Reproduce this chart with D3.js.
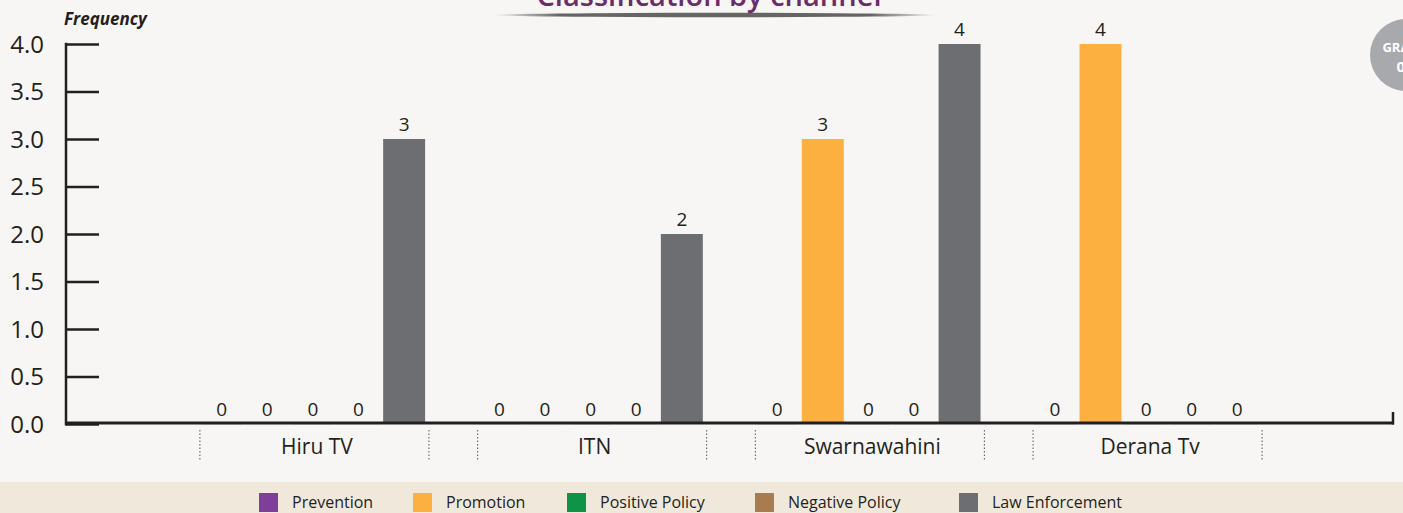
<!DOCTYPE html>
<html>
<head>
<meta charset="utf-8">
<script src="https://cdn.jsdelivr.net/npm/d3@7"></script>
<style>
  html, body { margin: 0; padding: 0; background: #f7f6f4; }
  svg { display: block; }
  text { font-family: "Open Sans", "DejaVu Sans", sans-serif; fill: #231f20; }
</style>
</head>
<body>
<svg id="chart" width="1403" height="513"></svg>
<script>
// ---- data ----
const channels = ["Hiru TV", "ITN", "Swarnawahini", "Derana Tv"];
const series = ["Prevention", "Promotion", "Positive Policy", "Negative Policy", "Law Enforcement"];
const prevention     = [0, 0, 0, 0];
const promotion      = [0, 0, 3, 4];
const positivePolicy = [0, 0, 0, 0];
const negativePolicy = [0, 0, 0, 0];
const lawEnforcement = [3, 2, 4, 0];
const yTicks = [0, 0.5, 1, 1.5, 2, 2.5, 3, 3.5, 4];
const title = "Classification by channel";
const yLabel = "Frequency";

const colors = ["#7f3f98", "#fbb040", "#0f9447", "#a97c50", "#6d6e71"];
const values = [prevention, promotion, positivePolicy, negativePolicy, lawEnforcement];

const svg = d3.select("#chart");
const W = 1403, H = 513;
const axisX = 66, axisRight = 1393, baseY = 424, topY = 44;

// background + legend band
svg.append("rect").attr("width", W).attr("height", H).attr("fill", "#f7f6f4");
svg.append("rect").attr("x", 0).attr("y", 482).attr("width", W).attr("height", H - 482).attr("fill", "#f0e9db");

// title (cut off at top, as in the source)
const defs = svg.append("defs");
const grad = defs.append("linearGradient").attr("id", "shadow").attr("x1", "0%").attr("x2", "100%");
grad.append("stop").attr("offset", "0%").attr("stop-color", "#555").attr("stop-opacity", 0);
grad.append("stop").attr("offset", "15%").attr("stop-color", "#555").attr("stop-opacity", 0.9);
grad.append("stop").attr("offset", "85%").attr("stop-color", "#555").attr("stop-opacity", 0.9);
grad.append("stop").attr("offset", "100%").attr("stop-color", "#555").attr("stop-opacity", 0);
svg.append("ellipse").attr("cx", 715).attr("cy", 15).attr("rx", 222).attr("ry", 2.2).attr("fill", "url(#shadow)");
svg.append("text").attr("x", 709).attr("y", 6).attr("text-anchor", "middle")
  .style("font-size", "29px").style("fill", "#6b2c6b").style("font-weight", 600).text(title);

// badge
svg.append("circle").attr("cx", 1406).attr("cy", 55).attr("r", 36).attr("fill", "#a7a9ac");
svg.append("text").attr("x", 1405).attr("y", 52).attr("text-anchor", "middle")
  .style("font-size", "13px").style("font-weight", 700).style("fill", "#fff").text("GRAPH");
svg.append("text").attr("x", 1405).attr("y", 72).attr("text-anchor", "middle")
  .style("font-size", "15px").style("font-weight", 700).style("fill", "#fff").text("06");

// scales
const y = d3.scaleLinear().domain([0, 4]).range([baseY, topY]);
const x0 = d3.scaleBand().domain(channels).range([axisX, axisRight]).paddingInner(0.179).paddingOuter(0.4786);
const x1 = d3.scaleBand().domain(series).range([0, x0.bandwidth()]).paddingInner(0.08).paddingOuter(0.04);

// y axis
const yAxis = d3.axisRight(y).tickValues(yTicks).tickSize(33).tickFormat("");
const gy = svg.append("g").attr("transform", `translate(${axisX},0)`).call(yAxis);
gy.select(".domain").remove();
gy.selectAll(".tick line").attr("stroke", "#231f20").attr("stroke-width", 2.5);
svg.append("line").attr("x1", axisX).attr("x2", axisX).attr("y1", topY - 1.25).attr("y2", baseY + 1.5)
  .attr("stroke", "#231f20").attr("stroke-width", 2.5);
svg.append("g").selectAll("text").data(yTicks).join("text")
  .attr("x", 44).attr("y", d => y(d)).attr("dy", "0.36em").attr("text-anchor", "end")
  .style("font-size", "24px").text(d => d3.format(".1f")(d));

svg.append("text").attr("x", 64).attr("y", 25)
  .style("font-size", "17px").style("font-weight", 700).style("font-style", "italic").text(yLabel);

// bars
const rows = channels.map((c, i) => series.map((s, j) => ({ channel: c, series: s, value: values[j][i], color: colors[j] })));
const groups = svg.append("g").selectAll("g").data(rows).join("g")
  .attr("transform", (d, i) => `translate(${x0(channels[i])},0)`);
groups.selectAll("rect.bar").data(d => d).join("rect").attr("class", "bar")
  .attr("x", d => x1(d.series)).attr("width", x1.bandwidth())
  .attr("y", d => y(d.value)).attr("height", d => y(0) - y(d.value))
  .attr("fill", d => d.color);
groups.selectAll("text").data(d => d).join("text")
  .attr("x", d => x1(d.series) + x1.bandwidth() / 2).attr("y", d => y(d.value) - 8)
  .attr("text-anchor", "middle").style("font-size", "19px").text(d => d.value);

// x axis baseline
svg.append("line").attr("x1", axisX).attr("x2", axisRight + 1).attr("y1", baseY - 1).attr("y2", baseY - 1)
  .attr("stroke", "#231f20").attr("stroke-width", 3);
svg.append("line").attr("x1", axisRight).attr("x2", axisRight).attr("y1", baseY - 12).attr("y2", baseY + 0.5)
  .attr("stroke", "#231f20").attr("stroke-width", 2.5);
// zero-value traces on the baseline
groups.selectAll("rect.zero").data(d => d.filter(v => v.value === 0)).join("rect").attr("class", "zero")
  .attr("x", d => x1(d.series)).attr("width", x1.bandwidth())
  .attr("y", y(0) - 1).attr("height", 1.2).attr("fill", d => d.color).attr("opacity", 0.5);

// category labels and separators
const cat = svg.append("g").selectAll("g").data(channels).join("g");
cat.append("text").attr("x", d => x0(d) + x0.bandwidth() / 2 + 4).attr("y", 454)
  .attr("text-anchor", "middle").style("font-size", "21px").text(d => d);
cat.selectAll("line").data(d => [x0(d) + 1, x0(d) + x0.bandwidth() + 2]).join("line")
  .attr("x1", d => d).attr("x2", d => d).attr("y1", 430).attr("y2", 460)
  .attr("stroke", "#555").attr("stroke-width", 1).attr("stroke-dasharray", "1.5,2");

// legend
const legendX = [259, 413, 567, 755, 959];
const leg = svg.append("g").selectAll("g").data(series).join("g")
  .attr("transform", (d, i) => `translate(${legendX[i]},493)`);
leg.append("rect").attr("width", 19).attr("height", 19).attr("fill", (d, i) => colors[i]);
leg.append("text").attr("x", 33).attr("y", 15).style("font-size", "16px").text(d => d);
</script>
</body>
</html>
